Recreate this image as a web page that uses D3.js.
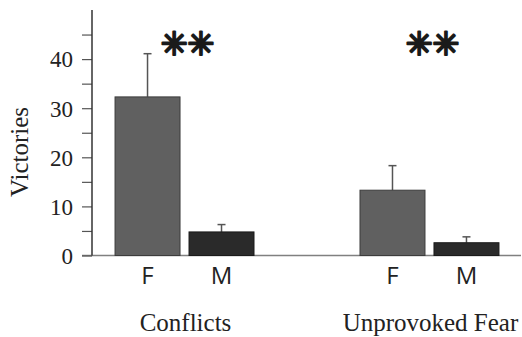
<!DOCTYPE html>
<html>
<head>
<meta charset="utf-8">
<script src="https://cdn.jsdelivr.net/npm/d3@7"></script>
<style>
  body { margin: 0; background: #fff; }
  svg { display: block; }
</style>
</head>
<body>
<div id="chart"></div>
<script>
// groups and sexes
var groups = ["Conflicts", "Unprovoked Fear"];
var sexes = ["F", "M"];
// mean victories per group, one array per sex
var meanF = [32.3, 13.3];
var meanM = [4.8, 2.6];
// error bar (SE) per group
var errF = [8.8, 5.0];
var errM = [1.5, 1.2];
var majorTicks = [0, 10, 20, 30, 40];
var minorTicks = [5, 15, 25, 35, 45];
var stars = ["✳✳", "✳✳"];

var width = 522, height = 337;

var rows = [];
groups.forEach(function (g, i) {
    rows.push({ group: g, sex: "F", mean: meanF[i], err: errF[i] });
    rows.push({ group: g, sex: "M", mean: meanM[i], err: errM[i] });
});

var svg = d3.select("#chart").append("svg")
    .attr("width", width)
    .attr("height", height);

//Scales
var y = d3.scaleLinear().domain([0, 50]).range([255.5, 10]);
var x0 = d3.scaleBand().domain(groups).range([92, 522])
    .paddingInner(0.4286).paddingOuter(0.092);
var x1 = d3.scaleBand().domain(sexes).range([0, x0.bandwidth()])
    .paddingInner(8 / 74);
var fill = d3.scaleOrdinal().domain(sexes).range(["#606060", "#2a2a2a"]);
var edge = d3.scaleOrdinal().domain(sexes).range(["#3c3c3c", "#1a1a1a"]);

var serif = "'Liberation Serif', 'Times New Roman', serif";

//Baseline
svg.append("line")
    .attr("x1", 82).attr("x2", 521)
    .attr("y1", y(0)).attr("y2", y(0))
    .attr("stroke", "#808080").attr("stroke-width", 1.5);

//Y axis
var yAxis = svg.append("g")
    .attr("transform", "translate(92,0)")
    .call(d3.axisLeft(y).tickValues(majorTicks).tickSize(10).tickPadding(9).tickSizeOuter(0));
yAxis.select(".domain").remove();
yAxis.selectAll(".tick line").attr("stroke", "#555").attr("stroke-width", 1.2);
yAxis.selectAll(".tick text")
    .attr("font-family", serif)
    .attr("font-size", 23)
    .attr("fill", "#222")
    .attr("dy", "0.34em");

var yMinor = svg.append("g")
    .attr("transform", "translate(92,0)")
    .call(d3.axisLeft(y).tickValues(minorTicks).tickSize(10).tickFormat("").tickSizeOuter(0));
yMinor.select(".domain").remove();
yMinor.selectAll(".tick line").attr("stroke", "#555").attr("stroke-width", 1.2);

svg.append("line")
    .attr("x1", 92).attr("x2", 92)
    .attr("y1", y(50)).attr("y2", y(0))
    .attr("stroke", "#333").attr("stroke-width", 1.5);

//Bars
var bar = svg.selectAll(".bar")
    .data(rows)
    .enter().append("g")
    .attr("class", "bar")
    .attr("transform", function (d) { return "translate(" + (x0(d.group) + x1(d.sex)) + ",0)"; });

bar.append("line")
    .attr("x1", x1.bandwidth() / 2).attr("x2", x1.bandwidth() / 2)
    .attr("y1", function (d) { return y(d.mean); })
    .attr("y2", function (d) { return y(d.mean + d.err); })
    .attr("stroke", "#555").attr("stroke-width", 1.5);

bar.append("line")
    .attr("x1", x1.bandwidth() / 2 - 4).attr("x2", x1.bandwidth() / 2 + 4)
    .attr("y1", function (d) { return y(d.mean + d.err); })
    .attr("y2", function (d) { return y(d.mean + d.err); })
    .attr("stroke", "#555").attr("stroke-width", 1.5);

bar.append("rect")
    .attr("x", 0.5)
    .attr("width", x1.bandwidth() - 1)
    .attr("y", function (d) { return y(d.mean); })
    .attr("height", function (d) { return y(0) - y(d.mean); })
    .attr("fill", function (d) { return fill(d.sex); })
    .attr("stroke", function (d) { return edge(d.sex); })
    .attr("stroke-width", 1);

//Sex labels
bar.append("text")
    .attr("x", x1.bandwidth() / 2)
    .attr("y", 283.5)
    .attr("text-anchor", "middle")
    .attr("font-family", "'Open Sans', sans-serif")
    .attr("font-size", 24)
    .attr("fill", "#222")
    .text(function (d) { return d.sex; });

//Group labels
svg.selectAll(".glabel")
    .data(groups)
    .enter().append("text")
    .attr("class", "glabel")
    .attr("x", function (d) { return x0(d) + x0.bandwidth() / 2 + 1; })
    .attr("y", 331)
    .attr("text-anchor", "middle")
    .attr("font-family", serif)
    .attr("font-size", 25)
    .attr("fill", "#222")
    .text(function (d) { return d; });

//Significance stars
svg.selectAll(".stars")
    .data(stars)
    .enter().append("text")
    .attr("class", "stars")
    .attr("x", function (d, i) { return x0(groups[i]) + x0.bandwidth() / 2 + 3; })
    .attr("y", 44)
    .attr("dy", "0.35em")
    .attr("text-anchor", "middle")
    .attr("font-family", "'DejaVu Sans', sans-serif")
    .attr("font-weight", "bold")
    .attr("font-size", 32)
    .attr("fill", "#1a1a1a")
    .attr("stroke", "#1a1a1a")
    .attr("stroke-width", 2.2)
    .attr("stroke-linejoin", "round")
    .text(function (d) { return d; });

//Y label
svg.append("text")
    .attr("transform", "translate(28,152) rotate(-90)")
    .attr("text-anchor", "middle")
    .attr("font-family", serif)
    .attr("font-size", 25)
    .attr("fill", "#222")
    .text("Victories");
</script>
</body>
</html>
